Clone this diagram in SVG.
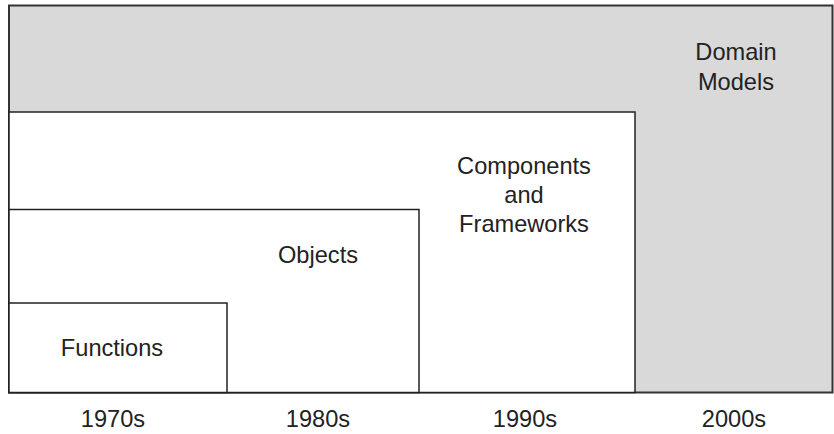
<svg xmlns="http://www.w3.org/2000/svg" width="834" height="434" viewBox="0 0 834 434">
<style>
text{font-family:"Liberation Sans",Arial,sans-serif;font-size:23.6px;fill:#222;text-anchor:middle}
.box{fill:#fff;stroke:#222;stroke-width:1.5}
</style>
<rect width="834" height="434" fill="#fff"/>
<g id="domain-models">
<rect x="9" y="5.5" width="823.5" height="387" fill="#d9d9d9" stroke="#333" stroke-width="2"/>
<text x="736" y="60">Domain</text>
<text x="736" y="90">Models</text>
</g>
<g id="components">
<rect class="box" x="9" y="112" width="626" height="280.5"/>
<text x="524" y="174">Components</text>
<text x="524" y="203">and</text>
<text x="524" y="232">Frameworks</text>
</g>
<g id="objects">
<rect class="box" x="9" y="209.5" width="410" height="183"/>
<text x="318" y="263">Objects</text>
</g>
<g id="functions">
<rect class="box" x="9" y="303" width="218" height="89.5"/>
<text x="112" y="356">Functions</text>
</g>
<g id="connectors"></g>
<g id="axis">
<text x="113" y="427">1970s</text>
<text x="318" y="427">1980s</text>
<text x="525" y="427">1990s</text>
<text x="734" y="427">2000s</text>
</g>
</svg>
